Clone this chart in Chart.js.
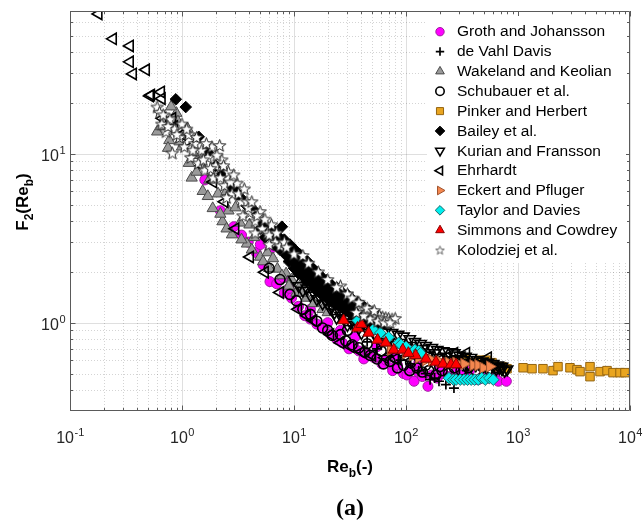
<!DOCTYPE html>
<html lang="en">
<head>
    <meta charset="UTF-8">
    <title>F2(Reb) vs Reb</title>
    <script src="https://cdn.jsdelivr.net/npm/chart.js"></script>
    <style>
        body { margin: 0; padding: 0; background: #fff; }
        #wrap { position: relative; width: 643px; height: 522px; }
    </style>
</head>
<body>
<div id="wrap"><canvas id="f2Chart"></canvas></div>
<script>
    // Series names (legend order)
    const seriesNames = [
        'Groth and Johansson', 'de Vahl Davis', 'Wakeland and Keolian', 'Schubauer et al.',
        'Pinker and Herbert', 'Bailey et al.', 'Kurian and Fransson', 'Ehrhardt',
        'Eckert and Pfluger', 'Taylor and Davies', 'Simmons and Cowdrey', 'Kolodziej et al.'
    ];

    // Tick labels
    const xTickValues = [0.1, 1, 10, 100, 1000, 10000];
    const xTickExps = ['-1', '0', '1', '2', '3', '4'];
    const yTickValues = [1, 10];
    const yTickExps = ['0', '1'];

    // [Re_b, F2] pairs
    const grothPts = [
        [2.2, 4.6], [2.9, 3.7], [3.4, 3.3], [3.9, 3.0], [4.6, 2.6], [5.3, 2.2], [6.1, 2.7], [6.1, 1.75],
        [7.0, 1.7], [8.2, 1.5], [9.5, 1.4], [11, 1.25], [12.5, 1.1], [14, 1.05], [16, 0.98], [18, 0.93],
        [21, 0.86], [24, 0.8], [27, 0.76], [31, 0.7], [34, 0.74], [38, 0.68], [42, 0.61], [46, 0.65],
        [52, 0.62], [61, 0.57], [66, 0.6], [76, 0.54], [76, 0.52], [84, 0.56], [95, 0.5], [102, 0.49],
        [110, 0.54], [118, 0.45], [128, 0.51], [140, 0.48], [157, 0.42], [170, 0.49], [190, 0.47],
        [215, 0.5], [240, 0.48], [280, 0.51], [320, 0.49], [370, 0.52], [442, 0.46], [480, 0.48],
        [540, 0.47], [620, 0.48], [667, 0.45], [787, 0.45], [35, 0.82], [55, 0.72], [80, 0.64],
        [130, 0.58], [200, 0.54], [8, 1.85], [5, 2.9], [1.6, 7], [9, 1.6], [14, 1.2], [20, 1.0], [26, 0.9]
    ];
    const deVahlPts = [
        [164, 0.46], [197, 0.45], [227, 0.43], [268, 0.41], [180, 0.47], [150, 0.5], [130, 0.52],
        [250, 0.47], [300, 0.49], [110, 0.57], [90, 0.6], [70, 0.64], [55, 0.7], [45, 0.77], [350, 0.52]
    ];
    const wakelandPts = [
        [0.6, 13.5], [0.77, 12], [0.89, 17.4], [0.92, 15.5], [1.12, 14.1], [1.0, 11], [1.22, 7.2],
        [1.3, 9.8], [1.53, 6.0], [1.45, 8.5], [1.88, 4.75], [1.75, 7], [2.3, 3.97], [2.1, 5.8],
        [2.79, 3.32], [2.6, 4.6], [3.8, 2.93], [3.3, 3.9], [4.98, 2.45], [4.4, 3.2], [5.8, 2.6],
        [7.1, 2.08], [6.5, 2.4], [8.5, 1.95], [9.5, 1.8], [11.4, 1.66], [10.5, 1.5], [13, 1.4],
        [15, 1.3], [0.7, 16], [0.8, 19], [1.05, 13.5], [1.6, 10], [2.0, 7.5], [2.5, 6], [3.0, 4.8], [4.0, 3.8],
        [0.65, 14.5], [0.75, 10.8], [0.95, 11.8], [1.15, 8.8], [1.35, 7.8], [1.7, 5.6], [2.2, 4.4],
        [2.5, 3.6], [3.4, 3.1], [4.2, 2.7], [5.3, 2.3], [6, 2.1], [7.8, 1.9], [9, 1.65], [12, 1.5],
        [18, 1.2], [20, 1.15]
    ];
    const schubauerPts = [
        [6, 2.1], [7.5, 1.8], [9.2, 1.47], [10.5, 1.35], [12, 1.2], [14, 1.12], [16, 1.02], [18, 0.93],
        [20, 0.9], [22, 0.84], [26, 0.85], [29, 0.78], [33, 0.74], [38, 0.71], [43, 0.67], [48, 0.64],
        [55, 0.61], [63, 0.57], [72, 0.59], [84, 0.54], [95, 0.56], [108, 0.52], [125, 0.54], [140, 0.51],
        [160, 0.52], [185, 0.49], [210, 0.52], [240, 0.5], [270, 0.54], [310, 0.52], [360, 0.54],
        [420, 0.52], [480, 0.55], [560, 0.52], [640, 0.54], [30, 0.9], [45, 0.75], [60, 0.68], [80, 0.62],
        [110, 0.58], [150, 0.56], [200, 0.55]
    ];
    const pinkerPts = [
        [300, 0.6], [340, 0.61], [400, 0.58], [460, 0.6], [520, 0.6], [560, 0.57], [586, 0.58],
        [650, 0.549], [720, 0.549], [798, 0.534], [1109, 0.541], [1334, 0.534], [1671, 0.534],
        [2053, 0.52], [2276, 0.549], [2911, 0.541], [3365, 0.527], [3580, 0.513], [4395, 0.549],
        [4395, 0.479], [5400, 0.513], [6237, 0.52], [7050, 0.506], [8144, 0.506], [9020, 0.506]
    ];
    const baileyPts = [
        [0.88, 21], [1.08, 18.9], [1.41, 12.6], [2.73, 6.4], [3.43, 5.4], [4.3, 4.7], [7.8, 3.7],
        [5, 3.6], [5.5, 3.2], [6, 3.4], [6.5, 2.9], [7, 3.1], [7.5, 2.7], [8, 2.9], [8.5, 2.5], [9, 2.7],
        [9.5, 2.35], [10, 2.5], [10.5, 2.2], [11, 2.35], [12, 2.1], [12.5, 2.2], [13, 1.95], [14, 2.05],
        [14.5, 1.85], [15, 1.95], [16, 1.75], [17, 1.8], [18, 1.65], [19, 1.7], [20, 1.55], [21, 1.6],
        [22, 1.5], [23, 1.55], [24, 1.45], [25, 1.5], [26, 1.4], [28, 1.43], [29, 1.33], [31, 1.36],
        [32, 1.27], [34, 1.3], [36, 1.22], [38, 1.25], [40, 1.17], [42, 1.2], [45, 1.12], [48, 1.12],
        [50, 1.06], [54, 1.07], [58, 1.02], [62, 1.0], [11, 1.95], [13, 1.75], [15, 1.6], [17, 1.5],
        [19, 1.42], [22, 1.32], [25, 1.25], [28, 1.2], [32, 1.13], [36, 1.08], [40, 1.03], [45, 0.99],
        [52, 0.95], [2.0, 8.5], [2.3, 7.6], [1.7, 10.2], [3.0, 6.0], [3.8, 4.9],
        [5.2, 3.9], [6.2, 3.6], [6.8, 3.3], [7.2, 2.8], [8.8, 2.8], [9.8, 2.6], [10.8, 2.45], [11.5, 2.05],
        [12.8, 2.3], [13.5, 2.0], [15.5, 1.85], [16.5, 1.9], [17.5, 1.6], [18.5, 1.75], [20.5, 1.45],
        [21.5, 1.68], [23.5, 1.4], [24.5, 1.6], [27, 1.5], [27, 1.28], [30, 1.42], [30, 1.2], [33, 1.38],
        [35, 1.15], [37, 1.32], [39, 1.1], [41, 1.26], [44, 1.06], [47, 1.18], [50, 1.02], [56, 1.1],
        [60, 1.05], [65, 0.98],
        [5.6, 3.7], [6.6, 3.5], [7.4, 3.2], [8.2, 3.1], [9.2, 2.9], [10.2, 2.7], [11.2, 2.55], [12.2, 2.4],
        [13.2, 2.3], [14.2, 2.15], [15.2, 2.05], [16.2, 1.98], [17.2, 1.9], [18.2, 1.82], [19.5, 1.78],
        [21, 1.7], [22.5, 1.62], [24, 1.56], [26, 1.52], [28, 1.47], [30.5, 1.45], [32.5, 1.35], [35, 1.3],
        [38, 1.28], [42, 1.24], [46, 1.16], [52, 1.1], [9, 2.3], [10, 2.1], [11.8, 1.9], [13.8, 1.75],
        [16, 1.6], [18.5, 1.5], [21, 1.4], [24, 1.33], [27, 1.24], [31, 1.17], [35, 1.1], [39, 1.05],
        [44, 1.01], [50, 0.98], [56, 0.96]
    ];
    const kurianPts = [
        [20, 1.3], [25, 1.2], [30, 1.12], [36, 1.05], [42, 0.99], [50, 0.95], [58, 0.92], [66, 0.89],
        [75, 0.87], [85, 0.85], [95, 0.83], [108, 0.8], [120, 0.77], [135, 0.75], [150, 0.73], [170, 0.71],
        [190, 0.69], [215, 0.68], [240, 0.67], [270, 0.66], [300, 0.64], [340, 0.63], [380, 0.62],
        [430, 0.6], [480, 0.59], [540, 0.58], [600, 0.57], [660, 0.56], [720, 0.55],
        [60, 0.77], [80, 0.74], [100, 0.71], [130, 0.67], [160, 0.64], [200, 0.62], [250, 0.6],
        [300, 0.58], [360, 0.57], [420, 0.56], [480, 0.54], [560, 0.53], [640, 0.53], [720, 0.53],
        [800, 0.53], [40, 0.87], [30, 0.97], [24, 1.07],
        [10, 1.8], [11, 1.65], [12, 1.55], [13, 1.6], [14, 1.45], [15, 1.5], [16, 1.38], [17, 1.42],
        [18, 1.3], [19, 1.35], [21, 1.22], [22, 1.25], [23, 1.15], [26, 1.1], [28, 1.05], [32, 1.0],
        [35, 0.97], [38, 0.93], [45, 0.9], [52, 0.86], [55, 0.82], [65, 0.8], [70, 0.77], [90, 0.76],
        [110, 0.73], [140, 0.7], [180, 0.66], [230, 0.63], [280, 0.61], [330, 0.6], [390, 0.58],
        [450, 0.57], [520, 0.56], [600, 0.55], [680, 0.54], [760, 0.52]
    ];
    const ehrhardtPts = [
        [0.18, 67.3], [0.242, 47.9], [0.343, 43.5], [0.343, 35], [0.365, 29.7], [0.477, 31.4],
        [0.518, 22], [0.53, 22.3], [0.65, 23.2], [0.66, 21.2], [0.67, 16.2], [0.82, 16.2], [0.85, 14.5],
        [1.0, 13], [1.2, 11], [1.5, 8.5], [1.9, 6.8], [2.4, 5.2], [3.0, 3.6], [4.05, 2.45], [5.5, 1.99],
        [7.5, 1.51], [10.9, 1.2], [13.1, 1.1], [14.9, 1.03], [21.1, 0.85], [26, 0.76], [32, 0.72],
        [40, 0.67], [50, 0.64], [65, 0.62], [80, 0.61], [100, 0.63], [160, 0.62], [200, 0.6],
        [270, 0.66], [345, 0.66], [540, 0.62]
    ];
    const eckertPts = [
        [73, 0.69], [100, 0.66], [115, 0.64], [130, 0.62], [150, 0.6], [170, 0.6], [200, 0.59],
        [240, 0.58], [280, 0.58], [330, 0.57], [398, 0.56], [440, 0.56], [490, 0.54], [560, 0.55]
    ];
    const taylorPts = [
        [37, 1.03], [51, 0.91], [59, 0.87], [70, 0.82], [86, 0.76], [90, 0.74], [100, 0.72], [120, 0.69],
        [130, 0.68], [135, 0.66], [242, 0.47], [265, 0.46], [280, 0.46], [305, 0.46], [330, 0.46],
        [355, 0.46], [382, 0.46], [410, 0.46], [441, 0.46], [475, 0.47], [510, 0.46], [555, 0.47], [601, 0.46]
    ];
    const simmonsPts = [
        [27.7, 1.03], [36.9, 0.93], [46.4, 0.87], [55.8, 0.79], [65.9, 0.76], [77.6, 0.69], [93.6, 0.69],
        [122, 0.64], [151, 0.61], [185, 0.585], [214, 0.57], [252, 0.565], [280, 0.565], [40, 0.98], [105, 0.66]
    ];
    const kolodziejPts = [
        [0.6, 18.9], [0.63, 17.6], [0.66, 15], [0.72, 13.5], [0.78, 16], [0.82, 10.1], [0.86, 14],
        [0.95, 12.5], [1.0, 15], [1.05, 11], [1.15, 13], [1.2, 9.5], [1.3, 11.5], [1.4, 8.8], [1.5, 10.5],
        [1.6, 8], [1.7, 9.5], [1.85, 11], [1.9, 7.2], [2.0, 8.5], [2.17, 11.2], [2.27, 9.2], [2.4, 6.5],
        [2.6, 7.8], [2.8, 5.8], [3.1, 6.7], [3.4, 5.2], [3.8, 5.2], [4.0, 4.5], [4.5, 4.0], [4.98, 4.55],
        [5.2, 3.6], [5.8, 3.4], [6.3, 3.8], [6.8, 3.0], [7.5, 2.85], [8.2, 3.0], [10, 2.55],
        [12, 2.5], [26, 1.65], [40, 1.22],
        [43, 1.2], [46, 1.16], [50, 1.14], [54, 1.12], [58, 1.1], [62, 1.08], [66, 1.07], [70, 1.06],
        [75, 1.05], [80, 1.06], [48, 1.05], [56, 1.02], [64, 1.0], [72, 1.0], [42, 1.1], [36, 1.15],
        [6, 2.9], [4.5, 3.4], [3.5, 4.3], [2.5, 5.5],
        [0.68, 17], [0.75, 14.5], [0.9, 13], [1.1, 14], [1.25, 10.5], [1.35, 12.5], [1.55, 9.2],
        [1.65, 11.5], [1.8, 8.2], [2.05, 9.8], [2.2, 7.2], [2.35, 8.5], [2.7, 6.8], [2.9, 7.5], [3.2, 5.8],
        [3.6, 6.2], [3.9, 4.8], [4.2, 5.2], [4.7, 4.3], [5.5, 4.1], [6, 3.3], [7, 3.4],
        [8.6, 2.8], [13.5, 2.25], [16.5, 2.0], [20, 1.8], [24, 1.62], [30, 1.48], [33, 1.4], [38, 1.32],
        [45, 1.22], [52, 1.18]
    ];

    const seriesPts = [grothPts, deVahlPts, wakelandPts, schubauerPts, pinkerPts, baileyPts,
        kurianPts, ehrhardtPts, eckertPts, taylorPts, simmonsPts, kolodziejPts];

    // open five-point star used by Kolodziej et al.
    function makeStar(size, lw, edge) {
        const c = document.createElement('canvas');
        c.width = c.height = size;
        const g = c.getContext('2d');
        const ro = size / 2 - 1, ri = ro * 0.42;
        g.beginPath();
        for (let k = 0; k < 10; k++) {
            const r = k % 2 ? ri : ro;
            const ang = -Math.PI / 2 + k * Math.PI / 5;
            g.lineTo(size / 2 + r * Math.cos(ang), size / 2 + 0.5 + r * Math.sin(ang));
        }
        g.closePath();
        g.fillStyle = '#fff';
        g.fill();
        g.lineWidth = lw;
        g.strokeStyle = edge;
        g.stroke();
        return c;
    }
    const starPlot = makeStar(15, 1, '#222');
    const starLegend = makeStar(11, 0.8, '#444');

    const open = 'rgba(255,255,255,0)';
    const markers = [
        { style: 'circle', r: 5, rot: 0, fill: '#ff00ff', edge: '#a01ca0', bw: 1 },
        { style: 'cross', r: 5, rot: 0, fill: '#000', edge: '#000', bw: 1.7 },
        { style: 'triangle', r: 6.5, rot: 0, fill: '#9a9a9a', edge: '#4a4a4a', bw: 1 },
        { style: 'circle', r: 5, rot: 0, fill: open, edge: '#000', bw: 1.6 },
        { style: 'rect', r: 6, rot: 0, fill: '#e9a520', edge: '#946410', bw: 1 },
        { style: 'rectRot', r: 5.8, rot: 0, fill: '#000', edge: '#000', bw: 1 },
        { style: 'triangle', r: 6.5, rot: 180, fill: open, edge: '#000', bw: 1.6 },
        { style: 'triangle', r: 6.5, rot: 270, fill: open, edge: '#000', bw: 1.6 },
        { style: 'triangle', r: 6.5, rot: 90, fill: '#f4874f', edge: '#a0532e', bw: 1 },
        { style: 'rectRot', r: 5.8, rot: 0, fill: '#00eeee', edge: '#1d6a6a', bw: 1 },
        { style: 'triangle', r: 6.5, rot: 0, fill: '#ff0000', edge: '#880000', bw: 1 },
        { style: starPlot, r: 7, rot: 0, fill: '#fff', edge: '#222', bw: 1 }
    ];
    const legendRadius = [4.2, 4.2, 5, 4.2, 5, 4.8, 5, 5, 5, 4.8, 5, 5];

    const FONT = '"Liberation Sans", Arial, sans-serif';
    const AX = '#262626';

    function minorValues(min, max) {
        const out = [];
        for (let e = -2; e <= 4; e++) {
            for (let k = 2; k <= 9; k++) {
                const v = k * Math.pow(10, e);
                if (v > min * 1.0001 && v < max * 0.9999) out.push(v);
            }
        }
        return out;
    }

    function drawPow(ctx, exp, x, base, align) {
        ctx.font = '16px ' + FONT;
        const w10 = ctx.measureText('10').width;
        ctx.font = '11px ' + FONT;
        const wE = ctx.measureText(exp).width;
        const start = align === 'center' ? x - (w10 + wE) / 2 : x - (w10 + wE);
        ctx.textAlign = 'left';
        ctx.textBaseline = 'alphabetic';
        ctx.font = '16px ' + FONT;
        ctx.fillText('10', start, base);
        ctx.font = '11px ' + FONT;
        ctx.fillText(exp, start + w10 + 0.5, base - 7);
    }

    // pieces: [text, dy, size]
    function drawPieces(ctx, pieces, cx, base, family, weight) {
        let total = 0;
        pieces.forEach(p => { ctx.font = weight + ' ' + p[2] + 'px ' + family; total += ctx.measureText(p[0]).width; });
        let xx = cx - total / 2;
        ctx.textAlign = 'left';
        ctx.textBaseline = 'alphabetic';
        pieces.forEach(p => {
            ctx.font = weight + ' ' + p[2] + 'px ' + family;
            ctx.fillText(p[0], xx, base + p[1]);
            xx += ctx.measureText(p[0]).width;
        });
    }

    const matlabAxes = {
        id: 'matlabAxes',
        beforeDatasetsDraw(chart) {
            const { ctx, chartArea: a, scales: { x, y } } = chart;
            ctx.save();
            ctx.lineWidth = 1;
            ctx.strokeStyle = 'rgba(38,38,38,0.2)';
            ctx.setLineDash([1, 2]);
            ctx.beginPath();
            minorValues(x.min, x.max).forEach(v => {
                const p = Math.round(x.getPixelForValue(v)) + 0.5;
                ctx.moveTo(p, a.top); ctx.lineTo(p, a.bottom);
            });
            minorValues(y.min, y.max).forEach(v => {
                const p = Math.round(y.getPixelForValue(v)) + 0.5;
                ctx.moveTo(a.left, p); ctx.lineTo(a.right, p);
            });
            ctx.stroke();
            ctx.setLineDash([]);
            ctx.strokeStyle = 'rgba(38,38,38,0.15)';
            ctx.beginPath();
            xTickValues.forEach(v => {
                const p = Math.round(x.getPixelForValue(v)) + 0.5;
                ctx.moveTo(p, a.top); ctx.lineTo(p, a.bottom);
            });
            yTickValues.forEach(v => {
                const p = Math.round(y.getPixelForValue(v)) + 0.5;
                ctx.moveTo(a.left, p); ctx.lineTo(a.right, p);
            });
            ctx.stroke();
            ctx.restore();
        },
        afterDatasetsDraw(chart) {
            const { ctx, chartArea: a, scales: { x, y } } = chart;
            ctx.save();
            // box and inward ticks
            ctx.strokeStyle = '#5a5a5a';
            ctx.lineWidth = 1;
            ctx.beginPath();
            ctx.rect(a.left + 0.5, a.top + 0.5, a.right - a.left - 1, a.bottom - a.top - 1);
            const tick = (vals, len, scale, horiz) => {
                vals.forEach(v => {
                    const p = Math.round(scale.getPixelForValue(v)) + 0.5;
                    if (horiz) {
                        ctx.moveTo(p, a.bottom); ctx.lineTo(p, a.bottom - len);
                        ctx.moveTo(p, a.top); ctx.lineTo(p, a.top + len);
                    } else {
                        ctx.moveTo(a.left, p); ctx.lineTo(a.left + len, p);
                        ctx.moveTo(a.right, p); ctx.lineTo(a.right - len, p);
                    }
                });
            };
            tick(xTickValues, 5.5, x, true);
            tick(minorValues(x.min, x.max), 3, x, true);
            tick(yTickValues, 5.5, y, false);
            tick(minorValues(y.min, y.max), 3, y, false);
            ctx.stroke();

            // tick labels
            ctx.fillStyle = AX;
            xTickValues.forEach((v, i) => drawPow(ctx, xTickExps[i], x.getPixelForValue(v), a.bottom + 32, 'center'));
            yTickValues.forEach((v, i) => drawPow(ctx, yTickExps[i], a.left - 5, y.getPixelForValue(v) + 7, 'right'));

            // axis titles
            ctx.fillStyle = '#000';
            drawPieces(ctx, [['Re', 0, 17], ['b', 5, 12], ['(-)', 0, 17]], (a.left + a.right) / 2, a.bottom + 61, FONT, 'bold');
            ctx.save();
            ctx.translate(28, 202);
            ctx.rotate(-Math.PI / 2);
            drawPieces(ctx, [['F', 0, 17], ['2', 5, 12], ['(Re', 0, 17], ['b', 5, 12], [')', 0, 17]], 0, 0, FONT, 'bold');
            ctx.restore();
            drawPieces(ctx, [['(a)', 0, 24]], (a.left + a.right) / 2, a.bottom + 104, '"Liberation Serif", "Times New Roman", serif', 'bold');

            // legend inside the axes
            ctx.fillStyle = '#fff';
            ctx.fillRect(427, 16, 199, 247);
            chart.data.datasets.forEach((ds, i) => {
                const m = markers[i];
                const ly = 31.7 + i * 19.85;
                ctx.fillStyle = m.fill;
                ctx.strokeStyle = m.edge;
                ctx.lineWidth = m.bw;
                Chart.helpers.drawPoint(ctx, {
                    pointStyle: m.style === starPlot ? starLegend : m.style,
                    rotation: m.rot,
                    radius: legendRadius[i],
                    borderWidth: m.bw
                }, 440, ly);
                ctx.fillStyle = '#000';
                ctx.font = '15.5px ' + FONT;
                ctx.textAlign = 'left';
                ctx.textBaseline = 'middle';
                ctx.fillText(ds.label, 457, ly + 0.5);
            });
            ctx.restore();
        }
    };

    const datasets = seriesNames.map((name, i) => ({
        label: name,
        data: seriesPts[i].map(p => ({ x: p[0], y: p[1] })),
        pointStyle: markers[i].style,
        rotation: markers[i].rot,
        pointRadius: markers[i].r,
        pointHoverRadius: markers[i].r,
        backgroundColor: markers[i].fill,
        borderColor: markers[i].edge,
        borderWidth: markers[i].bw,
        showLine: false,
        order: seriesNames.length - i
    }));

    const ctx = document.getElementById('f2Chart').getContext('2d');
    const f2Chart = new Chart(ctx, {
        type: 'scatter',
        data: { datasets: datasets },
        options: {
            responsive: true,
            maintainAspectRatio: false,
            animation: false,
            layout: { padding: { left: 70, right: 13, top: 11, bottom: 111 } },
            plugins: { legend: { display: false }, tooltip: { enabled: false } },
            scales: {
                x: { type: 'logarithmic', min: 0.1, max: 10000, display: false },
                y: { type: 'logarithmic', min: 0.3, max: 70, display: false }
            }
        },
        plugins: [matlabAxes]
    });
</script>
</body>
</html>
